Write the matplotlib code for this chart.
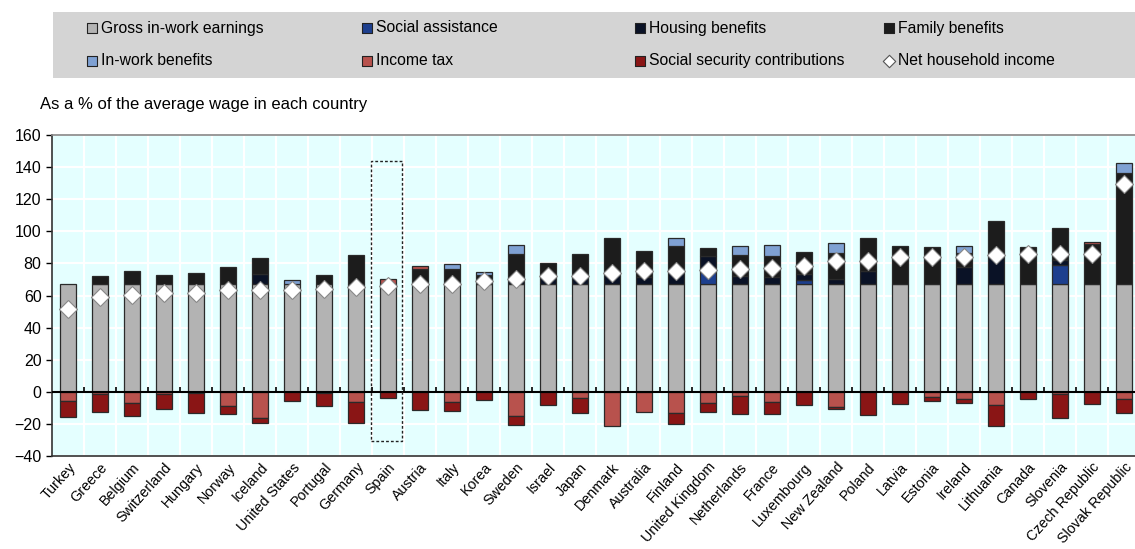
import numpy as np
import matplotlib
matplotlib.use("Agg")
import matplotlib.pyplot as plt
from matplotlib.patches import Rectangle

plt.rcParams['font.family'] = ['Liberation Sans', 'DejaVu Sans']

countries = ["Turkey", "Greece", "Belgium", "Switzerland", "Hungary", "Norway", "Iceland",
             "United States", "Portugal", "Germany", "Spain", "Austria", "Italy", "Korea",
             "Sweden", "Israel", "Japan", "Denmark", "Australia", "Finland", "United Kingdom",
             "Netherlands", "France", "Luxembourg", "New Zealand", "Poland", "Latvia", "Estonia",
             "Ireland", "Lithuania", "Canada", "Slovenia", "Czech Republic", "Slovak Republic"]

gross = [67] * 34
social_assistance = [0, 0, 0, 0, 0, 0, 0, 0, 0, 0, 0, 0, 0, 0, 0, 0, 0, 0, 0, 0, 7.8,
                     0, 0, 2.5, 0, 0, 0, 0, 0, 0, 0, 11.8, 0, 0]
housing = [0, 0, 0, 0, 0, 0, 6.6, 0, 0, 0, 0, 0, 0, 0, 4.0, 4.5, 4.5, 6.5, 4.5, 7.8, 9.8,
           5.0, 4.5, 4.0, 3.1, 8.4, 0, 0, 10.9, 17.0, 0, 3.2, 0, 0]
family = [0, 5.1, 8.4, 5.7, 7.2, 10.9, 9.9, 0, 5.9, 18.4, 0, 9.4, 9.8, 5.7, 14.8, 8.9, 14.3,
          22.1, 16.4, 15.8, 4.8, 13.4, 13.2, 13.4, 16.6, 20.6, 24.0, 23.0, 8.4, 22.6, 23.4,
          20.0, 24.9, 69.5]
in_work = [0, 0, 0, 0, 0, 0, 0, 2.6, 0, 0, 0, 0, 2.8, 2.1, 5.6, 0, 0, 0, 0, 5.4, 0,
           5.4, 6.5, 0, 5.8, 0, 0, 0, 4.6, 0, 0, 0, 0, 6.3]
income_tax = [-5.8, -1.5, -6.9, -1.5, -0.5, -8.7, -16.2, 0, -0.8, -6.2, 3.0, 2.0, -6.2, 0,
              -15.2, 0, -4.0, -21.2, -12.7, -13.3, -6.9, -2.7, -6.4, 0, -9.7, 0, 0, -3.3,
              -4.2, -8.3, 0, -1.5, 1.2, -4.2]
ssc = [-9.8, -11.0, -8.3, -9.5, -12.4, -5.4, -3.1, -5.6, -8.1, -13.5, -3.7, -11.4, -5.8,
       -5.2, -5.2, -8.3, -9.5, 0, 0, -6.8, -5.8, -11.3, -7.5, -8.4, -1.2, -14.2, -7.3, -2.5,
       -2.5, -13.1, -4.6, -15.1, -7.3, -9.3]
net_income = [51.3, 59.2, 60.3, 61.3, 61.3, 63.4, 63.4, 63.4, 63.8, 65.5, 66.0, 66.9, 67.1,
              69.2, 70.0, 72.1, 72.3, 73.8, 75.2, 75.4, 75.9, 76.3, 76.9, 78.6, 81.5, 81.5,
              83.7, 84.0, 84.0, 85.2, 85.8, 85.8, 85.8, 129.3]

components = [
    ("Gross in-work earnings", gross, "#b3b3b3"),
    ("Social assistance", social_assistance, "#1d3f8e"),
    ("Housing benefits", housing, "#0a1226"),
    ("Family benefits", family, "#1c1c1c"),
    ("In-work benefits", in_work, "#7fa1d3"),
    ("Income tax", income_tax, "#b8524d"),
    ("Social security contributions", ssc, "#8a1515"),
]

W, H = 1135, 549
fig = plt.figure(figsize=(W / 100, H / 100), dpi=100)
ax = fig.add_axes([52 / W, 1 - 456 / H, (1140 - 52) / W, (456 - 135) / H])
ax.set_facecolor("#e4ffff")

x = np.arange(len(countries))
pos_bottom = np.zeros(len(x))
neg_bottom = np.zeros(len(x))
for name, vals, color in components:
    v = np.array(vals, dtype=float)
    bottom = np.where(v >= 0, pos_bottom, neg_bottom)
    m = v != 0
    ax.bar(x[m], v[m], bottom=bottom[m], width=0.52, color=color,
           edgecolor="#2a2a2a", linewidth=0.9, zorder=3)
    pos_bottom += np.clip(v, 0, None)
    neg_bottom += np.clip(v, None, 0)

ax.plot(x, net_income, linestyle="none", marker="D", markersize=9,
        markerfacecolor="white", markeredgecolor="#888888", markeredgewidth=0.8, zorder=5)

ax.axhline(0, color="black", linewidth=1.5, zorder=4)
ax.vlines(x[:-1] + 0.5, 0, 3, color="black", linewidth=1.2, zorder=4)

# highlight Spain
i_sp = countries.index("Spain")
ax.add_patch(Rectangle((i_sp - 0.54, -30.5), 0.99, 174.5, fill=False,
                       linestyle=(0, (2, 1.5)), edgecolor="#222222", linewidth=1, zorder=6))

ax.set_xlim(-0.5, len(countries) - 0.5)
ax.set_ylim(-40, 160)
ax.set_yticks(np.arange(-40, 161, 20))
ax.set_xticks(x)
ax.set_xticklabels(countries, rotation=48, ha="right", rotation_mode="anchor", fontsize=10.3)
ax.set_xticks(x[:-1] + 0.5, minor=True)
ax.tick_params(axis="x", which="both", length=0, pad=3)
ax.tick_params(axis="y", labelsize=11.5, length=4, width=1, direction="out")
ax.grid(True, which="major", axis="y", color="white", linewidth=1.5, zorder=0)
ax.grid(True, which="minor", axis="x", color="white", linewidth=1.5, zorder=0)
ax.set_axisbelow(True)
for s in ax.spines.values():
    s.set_color("#333333")
    s.set_linewidth(1.2)
ax.spines["top"].set_color("#888888")

fig.text(40 / W, 1 - 105 / H, "As a % of the average wage in each country",
         fontsize=12, va="center", ha="left")

# legend panel
lax = fig.add_axes([53 / W, 1 - 78 / H, (1140 - 53) / W, 66 / H])
lax.set_facecolor("#d4d4d4")
lax.set_xlim(53, 1140)
lax.set_ylim(78, 12)
lax.set_xticks([])
lax.set_yticks([])
for s in lax.spines.values():
    s.set_visible(False)

leg_cols = [92, 367, 640, 889]
leg_rows = [28, 61]
for k, (name, _, color) in enumerate(components):
    cx = leg_cols[k % 4]
    cy = leg_rows[k // 4]
    lax.scatter([cx], [cy], marker="s", s=50, color=color, edgecolors="#222222", linewidths=0.8)
    lax.text(cx + 9, cy, name, fontsize=11.3, va="center", ha="left")
lax.scatter([leg_cols[3]], [leg_rows[1]], marker="D", s=40, color="white",
            edgecolors="#555555", linewidths=0.8)
lax.text(leg_cols[3] + 9, leg_rows[1], "Net household income", fontsize=11.3,
         va="center", ha="left")

fig.savefig("out.png", dpi=100)
